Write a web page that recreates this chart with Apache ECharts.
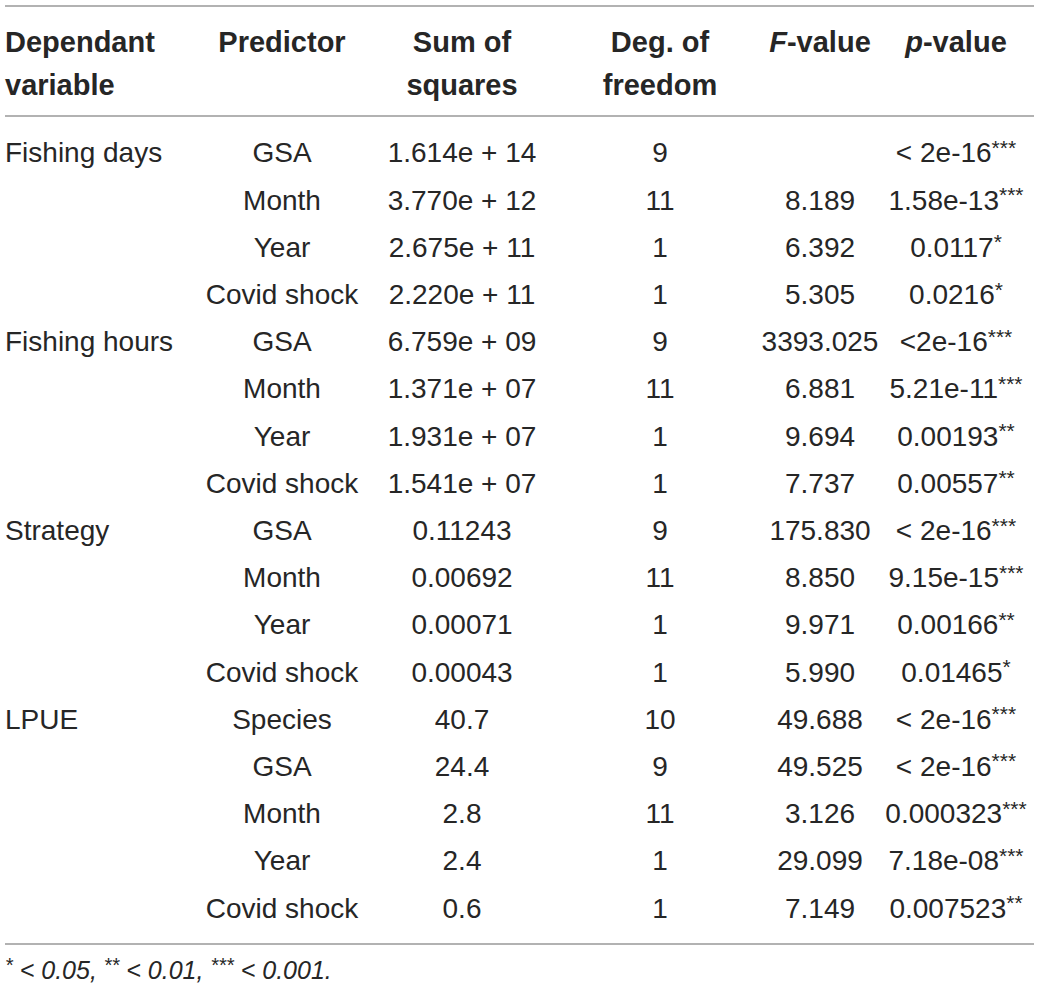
<!DOCTYPE html>
<html>
<head>
<meta charset="utf-8">
<script src="https://cdn.jsdelivr.net/npm/echarts@6/dist/echarts.min.js"></script>
<style>
html,body{margin:0;padding:0;background:#fff;}
#c{width:1039px;height:991px;}
</style>
</head>
<body>
<div id="c"></div>
<script>
// ---- data ----
const dependentVars = ["Fishing days","","","","Fishing hours","","","","Strategy","","","","LPUE","","","",""];
const predictors = ["GSA","Month","Year","Covid shock","GSA","Month","Year","Covid shock","GSA","Month","Year","Covid shock","Species","GSA","Month","Year","Covid shock"];
const sumSquares = ["1.614e + 14","3.770e + 12","2.675e + 11","2.220e + 11","6.759e + 09","1.371e + 07","1.931e + 07","1.541e + 07","0.11243","0.00692","0.00071","0.00043","40.7","24.4","2.8","2.4","0.6"];
const degFreedom = [9,11,1,1,9,11,1,1,9,11,1,1,10,9,11,1,1];
const fValues = ["","8.189","6.392","5.305","3393.025","6.881","9.694","7.737","175.830","8.850","9.971","5.990","49.688","49.525","3.126","29.099","7.149"];
const pValues = ["< 2e-16","1.58e-13","0.0117","0.0216","<2e-16","5.21e-11","0.00193","0.00557","< 2e-16","9.15e-15","0.00166","0.01465","< 2e-16","< 2e-16","0.000323","7.18e-08","0.007523"];
const pStars = ["***","***","*","*","***","***","**","**","***","***","**","*","***","***","***","***","**"];
const headers = ["Dependant\nvariable","Predictor","Sum of\nsquares","Deg. of\nfreedom","F-value","p-value"];
const footnote = "* < 0.05, ** < 0.01, *** < 0.001.";

// ---- layout ----
const FONT = '"Liberation Sans", Arial, sans-serif';
const COLOR = '#262626';
const FS = 28;
const HFS = 29;
const cols = [
  {x: 5, align: 'left'},
  {x: 282, align: 'center'},
  {x: 462, align: 'center'},
  {x: 660, align: 'center'},
  {x: 820, align: 'center'},
  {x: 956, align: 'center'}
];
const nRows = predictors.length;

function cellText(c, i) {
  switch (c) {
    case 0: return dependentVars[i];
    case 1: return predictors[i];
    case 2: return sumSquares[i];
    case 3: return String(degFreedom[i]);
    case 4: return fValues[i];
    case 5: return '{m|' + pValues[i] + '}{s|' + pStars[i] + '}';
  }
}

const series = cols.map((col, c) => ({
  type: 'custom',
  silent: true,
  coordinateSystem: 'cartesian2d',
  data: predictors.map((_, i) => [col.x, i]),
  renderItem: function (params, api) {
    const p = api.coord([api.value(0), api.value(1)]);
    const style = {
      text: cellText(c, params.dataIndex),
      x: p[0], y: p[1],
      align: col.align,
      verticalAlign: 'middle',
      fill: COLOR,
      font: FS + 'px ' + FONT
    };
    if (c === 5) {
      style.rich = {
        m: {fontSize: FS, fontFamily: FONT, color: COLOR, verticalAlign: 'middle', lineHeight: 32},
        s: {fontSize: 21, fontFamily: FONT, color: COLOR, verticalAlign: 'top', lineHeight: 20}
      };
    }
    return {type: 'text', style: style};
  }
}));

function hline(y) {
  return {type: 'line', shape: {x1: 5, y1: y, x2: 1034, y2: y}, style: {stroke: '#999', lineWidth: 1.5}, silent: true};
}
const headerGraphics = headers.map((h, c) => {
  let text = h;
  const rich = {
    b: {fontSize: HFS, fontWeight: 'bold', fontFamily: FONT, color: COLOR, lineHeight: 43},
    bi: {fontSize: HFS, fontWeight: 'bold', fontStyle: 'italic', fontFamily: FONT, color: COLOR, lineHeight: 43}
  };
  if (c === 4 || c === 5) {
    const first = h.charAt(0);
    text = '{bi|' + first + '}{b|' + h.slice(1) + '}';
  } else {
    text = h.split('\n').map(t => '{b|' + t + '}').join('\n');
  }
  return {
    type: 'text', silent: true,
    x: cols[c].x, y: 20,
    style: {text: text, align: cols[c].align, verticalAlign: 'top', rich: rich, fill: COLOR}
  };
});
const footParts = footnote.split(/(\*+)/).filter(s => s.length);
const footText = footParts.map(s => s[0] === '*' ? '{s|' + s + '}' : '{m|' + s + '}').join('');

const option = {
  animation: false,
  grid: {left: 0, right: 0, top: 129.4, bottom: 59.4},
  xAxis: {type: 'value', min: 0, max: 1039, show: false},
  yAxis: {type: 'value', min: -0.5, max: nRows - 0.5, inverse: true, show: false},
  series: series,
  graphic: [
    hline(6), hline(116), hline(944)
  ].concat(headerGraphics).concat([{
    type: 'text', silent: true, x: 5, y: 970,
    style: {
      text: footText, align: 'left', verticalAlign: 'middle', fill: COLOR,
      rich: {
        m: {fontSize: 25, fontStyle: 'italic', fontFamily: FONT, color: COLOR, verticalAlign: 'middle', lineHeight: 30},
        s: {fontSize: 20, fontStyle: 'italic', fontFamily: FONT, color: COLOR, verticalAlign: 'top', lineHeight: 19}
      }
    }
  }])
};

const chart = echarts.init(document.getElementById('c'), null, {renderer: 'svg'});
chart.setOption(option);
</script>
</body>
</html>
